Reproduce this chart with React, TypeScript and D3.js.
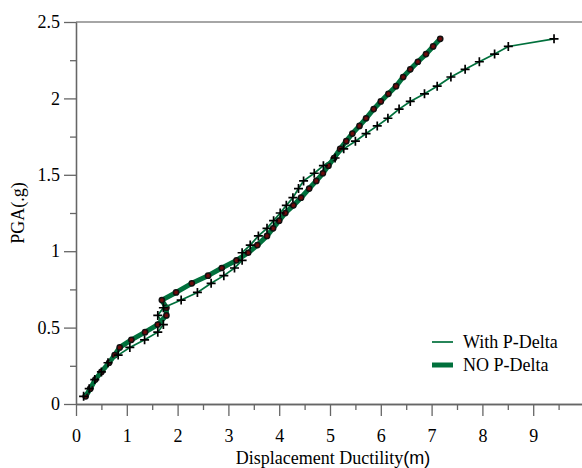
import React, { useEffect, useRef } from 'react';
import * as d3 from 'd3';

// PGA levels (g) shared by both analyses
const pgaLevels = [
  0.05, 0.10, 0.16, 0.21, 0.27, 0.32, 0.37, 0.42, 0.47, 0.52,
  0.58, 0.63, 0.68, 0.73, 0.79, 0.84, 0.89, 0.94, 0.99, 1.04,
  1.10, 1.15, 1.20, 1.25, 1.30, 1.35, 1.41, 1.46, 1.51, 1.56,
  1.61, 1.67, 1.72, 1.77, 1.82, 1.87, 1.93, 1.98, 2.03, 2.08,
  2.14, 2.19, 2.24, 2.29, 2.34, 2.39,
];

const ductilityWithPDelta = [
  0.15, 0.26, 0.37, 0.50, 0.63, 0.83, 1.06, 1.35, 1.61, 1.72,
  1.61, 1.72, 2.07, 2.39, 2.66, 2.91, 3.12, 3.27, 3.27, 3.43,
  3.59, 3.76, 3.89, 4.02, 4.14, 4.27, 4.38, 4.48, 4.69, 4.87,
  5.10, 5.27, 5.50, 5.71, 5.93, 6.14, 6.36, 6.58, 6.86, 7.11,
  7.38, 7.66, 7.94, 8.24, 8.51, 9.41,
];

const ductilityNoPDelta = [
  0.19, 0.28, 0.38, 0.50, 0.65, 0.76, 0.86, 1.09, 1.36, 1.61,
  1.78, 1.78, 1.69, 1.97, 2.28, 2.60, 2.87, 3.16, 3.39, 3.57,
  3.76, 3.88, 4.00, 4.12, 4.28, 4.43, 4.59, 4.73, 4.86, 4.97,
  5.08, 5.20, 5.32, 5.44, 5.58, 5.71, 5.86, 6.00, 6.15, 6.30,
  6.44, 6.58, 6.73, 6.89, 7.03, 7.17,
];

const seriesNames = ['With P-Delta', 'NO P-Delta'];

const xTicks = [0, 1, 2, 3, 4, 5, 6, 7, 8, 9];
const xMinorTicks = [0.5, 1.5, 2.5, 3.5, 4.5, 5.5, 6.5, 7.5, 8.5, 9.5];
const yTicks = [0, 0.5, 1, 1.5, 2, 2.5];
const yMinorTicks = [0.25, 0.75, 1.25, 1.75, 2.25];

const width = 582;
const height = 468;
const serif = 'Liberation Serif, Times New Roman, serif';
const sans = 'Liberation Sans, Arial, sans-serif';
const green = '#00703c';
const axisColor = '#666';

const App = () => {
  const ref = useRef<SVGSVGElement | null>(null);

  useEffect(() => {
    const svg = d3.select(ref.current);
    svg.selectAll('*').remove();

    const x = d3.scaleLinear().domain([0, 10]).range([76, 584]);
    const y = d3.scaleLinear().domain([0, 2.5]).range([404, 22]);

    // top frame line
    svg.append('line')
      .attr('x1', x(0)).attr('x2', width)
      .attr('y1', y(2.5)).attr('y2', y(2.5))
      .attr('stroke', '#888')
      .attr('stroke-width', 1.5);

    const styleAxis = (g: any) => {
      g.attr('font-family', serif).attr('font-size', 18);
      g.selectAll('.domain, line').attr('stroke', axisColor).attr('stroke-width', 1.3);
      g.selectAll('text')
        .attr('fill', '#000')
        .attr('font-family', serif)
        .style('font-family', serif)
        .style('font-size', '18px');
    };

    // minor ticks
    svg.append('g')
      .attr('transform', `translate(0,${y(0)})`)
      .call(d3.axisBottom(x).tickValues(xMinorTicks).tickSize(6).tickSizeOuter(0).tickFormat(() => ''))
      .call(styleAxis);
    svg.append('g')
      .attr('transform', `translate(${x(0)},0)`)
      .call(d3.axisLeft(y).tickValues(yMinorTicks).tickSize(6).tickSizeOuter(0).tickFormat(() => ''))
      .call(styleAxis);

    // major ticks and labels
    svg.append('g')
      .attr('transform', `translate(0,${y(0)})`)
      .call(d3.axisBottom(x).tickValues(xTicks).tickSize(12).tickSizeOuter(0).tickPadding(13).tickFormat(d3.format('d')))
      .call(styleAxis);
    svg.append('g')
      .attr('transform', `translate(${x(0)},0)`)
      .call(d3.axisLeft(y).tickValues(yTicks).tickSize(12).tickSizeOuter(0).tickPadding(4).tickFormat((d: any) => String(d)))
      .call(styleAxis);

    // axis titles
    const xTitle = svg.append('text')
      .attr('x', 333)
      .attr('y', 464)
      .attr('text-anchor', 'middle')
      .attr('font-family', serif)
      .attr('font-size', 18);
    xTitle.append('tspan').text('Displacement Ductility');
    xTitle.append('tspan').attr('font-family', sans).text('(m)');

    svg.append('text')
      .attr('transform', `translate(24,${(y(0) + y(2.5)) / 2}) rotate(-90)`)
      .attr('text-anchor', 'middle')
      .attr('font-family', serif)
      .attr('font-size', 18)
      .text('PGA(.g)');

    const noP = d3.zip(ductilityNoPDelta, pgaLevels) as [number, number][];
    const withP = d3.zip(ductilityWithPDelta, pgaLevels) as [number, number][];

    const line = d3.line<[number, number]>()
      .x(d => x(d[0]))
      .y(d => y(d[1]));

    // NO P-Delta: thick line with circle markers
    svg.append('path')
      .datum(noP)
      .attr('d', line)
      .attr('fill', 'none')
      .attr('stroke', green)
      .attr('stroke-width', 5)
      .attr('stroke-linejoin', 'round');

    svg.append('g')
      .selectAll('circle')
      .data(noP)
      .enter()
      .append('circle')
        .attr('cx', d => x(d[0]))
        .attr('cy', d => y(d[1]))
        .attr('r', 2.6)
        .attr('fill', '#6e0a0a')
        .attr('stroke', '#111')
        .attr('stroke-width', 1.5);

    // With P-Delta: thin line with plus markers
    svg.append('path')
      .datum(withP)
      .attr('d', line)
      .attr('fill', 'none')
      .attr('stroke', green)
      .attr('stroke-width', 1.7);

    svg.append('g')
      .selectAll('path')
      .data(withP)
      .enter()
      .append('path')
        .attr('transform', d => `translate(${x(d[0])},${y(d[1])})`)
        .attr('d', 'M-4.5,0H4.5M0,-4.5V4.5')
        .attr('stroke', '#000')
        .attr('stroke-width', 1.7);

    // legend
    const legend = svg.append('g').attr('transform', 'translate(432,342)');
    seriesNames.forEach((name, i) => {
      const row = legend.append('g').attr('transform', `translate(0,${i * 23})`);
      row.append('line')
        .attr('x1', 0).attr('x2', 21)
        .attr('stroke', green)
        .attr('stroke-width', i === 0 ? 1.7 : 5);
      row.append('text')
        .attr('x', 31)
        .attr('dy', '0.35em')
        .attr('font-family', serif)
        .attr('font-size', 18)
        .text(name);
    });
  }, []);

  return (
    <svg
      ref={ref}
      width={width}
      height={height}
      style={{ position: 'absolute', left: 0, top: 0, background: '#fff' }}
    />
  );
};

export default App;
